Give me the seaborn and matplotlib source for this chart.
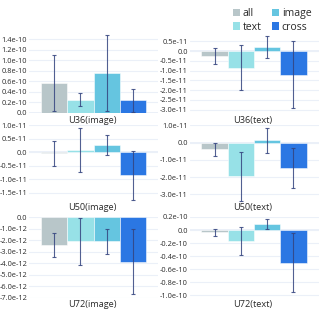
import matplotlib
matplotlib.use("Agg")
import matplotlib.pyplot as plt
import seaborn as sns
import numpy as np
from matplotlib.patches import Patch
from matplotlib.ticker import FixedLocator, FuncFormatter

sns.set_theme(style="white")
plt.rcParams['font.family'] = ['Open Sans', 'DejaVu Sans']

groups = ["all", "text", "image", "cross"]
colors = ["#b8c6c9", "#97e1e7", "#65c5e0", "#2b77e3"]

titles = ["U36(image)", "U36(text)", "U50(image)", "U50(text)", "U72(image)", "U72(text)"]

u36_image_mean = [0.57e-10, 0.25e-10, 0.765e-10, 0.24e-10]
u36_image_err = [0.53e-10, 0.12e-10, 0.72e-10, 0.22e-10]
u36_text_mean = [-0.27e-11, -0.85e-11, 0.21e-11, -1.2e-11]
u36_text_err = [0.41e-11, 1.15e-11, 0.54e-11, 1.72e-11]
u50_image_mean = [-0.04e-11, 0.09e-11, 0.27e-11, -0.85e-11]
u50_image_err = [0.45e-11, 0.82e-11, 0.36e-11, 0.91e-11]
u50_text_mean = [-0.39e-11, -1.95e-11, 0.13e-11, -1.49e-11]
u50_text_err = [0.37e-11, 1.41e-11, 0.74e-11, 1.16e-11]
u72_image_mean = [-2.44e-12, -2.1e-12, -2.1e-12, -3.87e-12]
u72_image_err = [1.01e-12, 2.03e-12, 1.07e-12, 2.83e-12]
u72_text_mean = [-0.035e-10, -0.17e-10, 0.088e-10, -0.50e-10]
u72_text_err = [0.05e-10, 0.22e-10, 0.08e-10, 0.46e-10]

means = [u36_image_mean, u36_text_mean, u50_image_mean, u50_text_mean, u72_image_mean, u72_text_mean]
errs = [u36_image_err, u36_text_err, u50_image_err, u50_text_err, u72_image_err, u72_text_err]

exps = [10, 11, 11, 11, 12, 10]
tick_lo = [0.0, -3.0, -1.5, -3.0, -7.0, -1.0]
tick_hi = [1.4, 0.5, 1.0, 1.0, 0.0, 0.2]
tick_step = [0.2, 0.5, 0.5, 1.0, 1.0, 0.2]
ylims = [(0.0, 1.517), (-3.166, 0.922), (-1.952, 1.011), (-3.62, 1.017), (-7.025, 0.0), (-1.046, 0.2)]

W, H = 324, 311
fig = plt.figure(figsize=(W / 100, H / 100), dpi=100)

col_x = [(29, 158), (189.5, 318.5)]
row_y = [(33, 113), (125, 205), (217, 298)]
title_y = [120.5, 207.5, 304.5]

text_color = "#2b2b2b"
grid_color = "#EBF0F8"
err_color = "#34447f"

for i in range(6):
    r, c = divmod(i, 2)
    x0, x1 = col_x[c]
    y0, y1 = row_y[r]
    ax = fig.add_axes([x0 / W, 1 - y1 / H, (x1 - x0) / W, (y1 - y0) / H])
    m = means[i]
    e = errs[i]
    sns.barplot(x=groups, y=m, hue=groups, palette=colors, width=1.0, ax=ax,
                legend=False, saturation=1, edgecolor="white", linewidth=0.36, zorder=2)
    ax.errorbar(np.arange(4), m, yerr=e, fmt="none", ecolor=err_color, elinewidth=0.8,
                capsize=1.4, capthick=0.8, alpha=0.85, zorder=3)
    span = 4 * (x1 - x0) / 105.3
    ax.set_xlim(1.5 - span / 2, 1.5 + span / 2)
    s = 10.0 ** (-exps[i])
    lo, hi = ylims[i]
    ax.set_ylim(lo * s, hi * s)
    n = int(round((tick_hi[i] - tick_lo[i]) / tick_step[i]))
    ticks = [(tick_lo[i] + k * tick_step[i]) * s for k in range(n + 1)]
    ax.yaxis.set_major_locator(FixedLocator(ticks))
    ex = exps[i]

    def fmt(v, pos, s=s, ex=ex):
        val = v / s
        if abs(val) < 1e-9:
            return "0.0"
        return f"{val:.1f}e-{ex}"

    ax.yaxis.set_major_formatter(FuncFormatter(fmt))
    ax.tick_params(axis="y", length=0, pad=1.2, labelsize=5.3, colors=text_color)
    ax.set_xticks([])
    ax.set_xlabel("")
    ax.set_ylabel("")
    for sp in ax.spines.values():
        sp.set_visible(False)
    ax.set_axisbelow(True)
    ax.yaxis.grid(True, color=grid_color, linewidth=0.8)
    ax.axhline(0, color=grid_color, linewidth=1.4, zorder=0.5)
    ax.patch.set_alpha(0)
    fig.text(((x0 + x1) / 2 - 1) / W, 1 - title_y[r] / H, titles[i], ha="center", va="center",
             fontsize=6.6, color=text_color)

handles = [Patch(facecolor=col, edgecolor="none") for col in colors]
fig.legend(handles, groups, ncol=2, loc="upper left", bbox_to_anchor=(227.5 / W, 1 - 3.0 / H),
           frameon=False, borderpad=0, handlelength=0.7, handleheight=0.75, handletextpad=0.25,
           columnspacing=0.95, labelspacing=0.22, fontsize=7.6, labelcolor=text_color)

fig.savefig("out.png", dpi=100)
